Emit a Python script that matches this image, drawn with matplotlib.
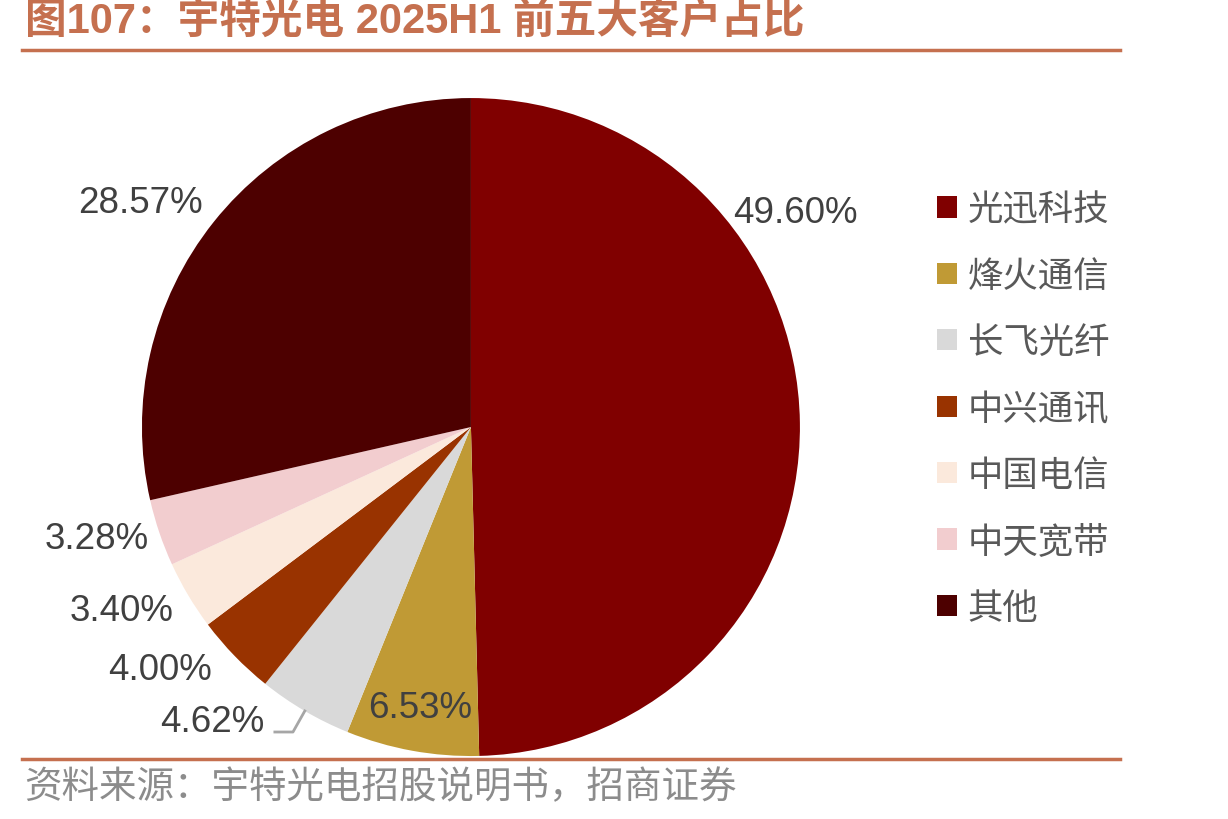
import matplotlib.pyplot as plt
from matplotlib.patches import Patch
import numpy as np

# data
customers = ['光迅科技', '烽火通信', '长飞光纤', '中兴通讯', '中国电信', '中天宽带', '其他']
shares = [49.60, 6.53, 4.62, 4.00, 3.40, 3.28, 28.57]
colors = ['#800000', '#C09A35', '#D9D9D9', '#993300', '#FBE9DC', '#F2CDCF', '#4D0000']

# label positions (pie radius units), as laid out in the original
label_pos = [(0.985, 0.653), (-0.155, -0.851), (-0.787, -0.894), (-0.945, -0.736),
             (-1.061, -0.559), (-1.137, -0.340), (-1.006, 0.684)]

accent = '#C5704F'
cjk = ['Liberation Sans', 'Noto Sans CJK SC']

fig = plt.figure(figsize=(12.28, 8.2), dpi=100)

ax = fig.add_axes([0.1156, 0.0768, 0.5358, 0.8024])
wedges, _ = ax.pie(shares, colors=colors, startangle=90, counterclock=False,
                   radius=1, wedgeprops=dict(linewidth=0))
ax.set_xlim(-1, 1)
ax.set_ylim(-1, 1)
ax.set_aspect('equal')
ax.axis('off')

for v, (x, y) in zip(shares, label_pos):
    ax.text(x, y, f'{v:.2f}%', ha='center', va='center', fontsize=26.5,
            color='#404040', family='Liberation Sans', clip_on=False)

# leader line for the 4.62% label
ax.plot([-0.596, -0.541, -0.505], [-0.927, -0.927, -0.863], color='#A6A6A6',
        lw=2, clip_on=False)

handles = [Patch(facecolor=c, edgecolor='none') for c in colors]
fig.legend(handles, customers, loc='upper left', bbox_to_anchor=(0.749, 0.787),
           frameon=False, prop={'family': 'Noto Sans CJK SC', 'size': 25.5},
           labelcolor='#595959', handlelength=0.55, handleheight=0.55,
           handletextpad=0.3, labelspacing=0.86, borderpad=0)

# title and rules
fig.text(0.02, 0.972, '图107：宇特光电 2025H1 前五大客户占比', ha='left', va='center',
         fontsize=30, fontweight='bold', color=accent, family=cjk)
fig.add_artist(plt.Line2D([0.018, 0.912], [0.938, 0.938], color=accent, lw=2.5))
fig.add_artist(plt.Line2D([0.018, 0.912], [0.073, 0.073], color=accent, lw=2.5))
fig.text(0.02, 0.039, '资料来源：宇特光电招股说明书，招商证券', ha='left', va='center',
         fontsize=27, color='#8C8C8C', family=cjk)

fig.savefig('out.png', dpi=100)
